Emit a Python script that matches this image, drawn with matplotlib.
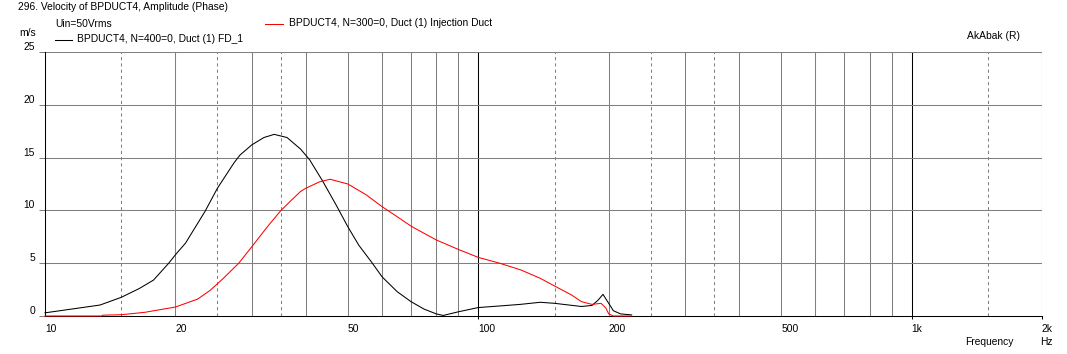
import matplotlib
matplotlib.use("Agg")
import matplotlib.pyplot as plt
import matplotlib.transforms as mtransforms

# Data (frequency in Hz, velocity in m/s)
fd1_freq = [10, 11.4, 13.4, 15, 16.5, 17.8, 19.3, 20, 21.1, 23.4, 25, 27.3, 28.2, 30,
            32, 33.8, 36.2, 38.9, 40.8, 43.7, 47, 50, 53, 56.6, 60, 65, 70, 75, 80, 83,
            90, 100, 112, 125, 139, 150, 165, 173, 183, 189, 194, 200, 205, 213, 226]
fd1_vel = [0.3, 0.63, 1.04, 1.77, 2.6, 3.4, 5.0, 5.8, 6.9, 9.9, 12.1, 14.5, 15.25,
           16.2, 16.9, 17.2, 16.9, 15.8, 14.8, 12.8, 10.5, 8.45, 6.7, 5.15, 3.7, 2.3,
           1.35, 0.65, 0.2, 0.05, 0.4, 0.8, 0.95, 1.1, 1.3, 1.2, 1.0, 0.9, 1.0, 1.5,
           2.05, 1.2, 0.5, 0.2, 0.1]

inj_freq = [10, 13.5, 13.6, 15, 17, 20, 22.5, 24, 25.7, 28, 30, 32.6, 35, 36.9, 38.9,
            40, 43, 45.5, 50, 55, 60, 65, 70, 80, 90, 100, 112, 125.6, 139, 150, 164,
            173, 183, 192, 197, 200, 205, 225]
inj_vel = [0.0, 0.0, 0.08, 0.12, 0.35, 0.85, 1.6, 2.4, 3.5, 5.0, 6.55, 8.45, 9.97,
           10.9, 11.8, 12.1, 12.7, 12.95, 12.5, 11.5, 10.35, 9.4, 8.5, 7.2, 6.3, 5.55,
           5.0, 4.35, 3.57, 2.84, 2.0, 1.36, 1.1, 1.2, 0.75, 0.2, 0.0, 0.0]

x_labels = {10: "10", 20: "20", 50: "50", 100: "100", 200: "200", 500: "500",
            1000: "1k", 2000: "2k"}
y_ticks = [0, 5, 10, 15, 20, 25]
grid_solid = [20, 30, 40, 50, 60, 70, 80, 90, 200, 300, 400, 500, 600, 700, 800, 900]
grid_dashed = [15, 25, 35, 150, 250, 350, 1500]
grid_black = [100, 1000, 2000]

plt.rcParams["font.family"] = ["Liberation Sans", "DejaVu Sans"]
plt.rcParams["font.size"] = 7.4

W, H = 1067, 354
fig = plt.figure(figsize=(W / 100, H / 100), dpi=100)
ax = fig.add_axes([45 / W, 1 - 316 / H, (1042 - 45) / W, (316 - 52) / H])

ax.set_xscale("log")
ax.set_xlim(10, 2000)
ax.set_ylim(0, 25)

lw = 0.75
for f in grid_solid:
    ax.axvline(f, color="#808080", lw=lw, zorder=1)
for f in grid_dashed:
    ax.axvline(f, color="#808080", lw=lw, ls=(0, (3, 3)), zorder=1)
for f in grid_black:
    ax.axvline(f, color="black", lw=lw, zorder=1)
for v in y_ticks[1:]:
    ax.axhline(v, color="#808080", lw=lw, zorder=1)

ax.plot(fd1_freq, fd1_vel, color="black", lw=lw, zorder=3, clip_on=False)
ax.plot(inj_freq, inj_vel, color="#ff0000", lw=lw, zorder=4, clip_on=False)

for side in ["top", "right"]:
    ax.spines[side].set_visible(False)
ax.spines["left"].set_linewidth(lw)
ax.spines["bottom"].set_linewidth(lw)

ax.minorticks_off()
ax.set_xticks(grid_black, [""] * len(grid_black))
ax.set_yticks(y_ticks, [""] * len(y_ticks))
ax.tick_params(axis="x", direction="out", length=2, width=lw, color="black")
ax.tick_params(axis="y", direction="out", length=4, width=lw, color="#808080")
ax.tick_params(which="minor", length=0)

# tick labels, placed like the original program does
px = mtransforms.ScaledTranslation
for f, lab in x_labels.items():
    ax.text(f, 0, lab, ha="left", va="top",
            transform=ax.get_xaxis_transform() + px(0, -8 / 100, fig.dpi_scale_trans))
for v in y_ticks:
    ax.text(0, v, str(v), ha="right", va="bottom",
            transform=ax.get_yaxis_transform() + px(-10 / 100, 0, fig.dpi_scale_trans))

def ftext(x, y, s, **kw):
    fig.text(x / W, 1 - y / H, s, va="top", **kw)

ftext(18, 2, "296. Velocity of BPDUCT4, Amplitude (Phase)")
ftext(55, 19, "Uin=50Vrms")
ftext(19, 28, "m/s")
ftext(77, 34, "BPDUCT4, N=400=0, Duct (1) FD_1")
ftext(289, 18, "BPDUCT4, N=300=0, Duct (1) Injection Duct")
ftext(967, 31, "AkAbak (R)")
ftext(965, 337, "Frequency")
ftext(1040, 337, "Hz")

fig.add_artist(plt.Line2D([55 / W, 72 / W], [1 - 40 / H] * 2, color="black", lw=lw))
fig.add_artist(plt.Line2D([265 / W, 283 / W], [1 - 24 / H] * 2, color="#ff0000", lw=lw))

fig.savefig("out.png", dpi=100)
